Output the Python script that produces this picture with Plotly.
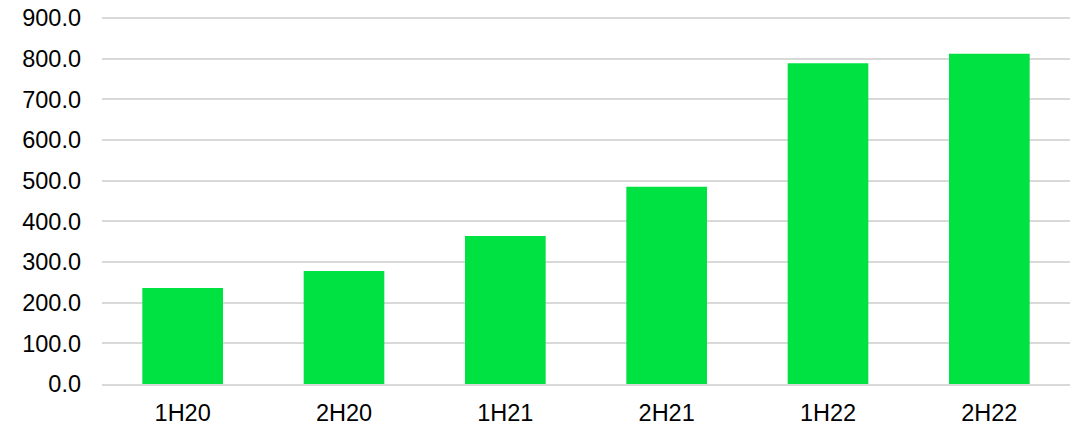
import plotly.graph_objects as go

categories = ["1H20", "2H20", "1H21", "2H21", "1H22", "2H22"]
values = [236, 278, 364, 485, 789, 812]
y_ticks = [0, 100, 200, 300, 400, 500, 600, 700, 800, 900]
y_max = 900 * 368 / 366  # small headroom so the 900 gridline is drawn

fig = go.Figure(
    go.Bar(x=categories, y=values, marker=dict(color="#00E242", line=dict(width=0)))
)
# page body has an 8px default margin, so margins are compensated
fig.update_layout(
    width=1081, height=424,
    margin=dict(l=94, r=19, t=8, b=48),
    paper_bgcolor="white", plot_bgcolor="white",
    bargap=0.5, showlegend=False,
    font=dict(family="Liberation Sans, Arial, sans-serif", size=23.5, color="#000000"),
)
fig.update_yaxes(
    range=[0, y_max], tickvals=y_ticks, ticktext=[f"{v:.1f}" for v in y_ticks],
    showgrid=True, gridcolor="#D9D9D9", gridwidth=1.5, zeroline=False,
    showline=False, ticks="", ticklabelstandoff=20, automargin=False,
    ticklabeloverflow="allow",
)
fig.update_xaxes(
    showline=True, linecolor="#D9D9D9", linewidth=1.5, ticks="",
    showgrid=False, ticklabelstandoff=7, automargin=False,
)
fig.write_html("out.html")
